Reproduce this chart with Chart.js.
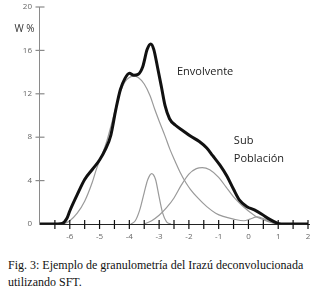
<!DOCTYPE html>
<html>
<head>
<meta charset="utf-8">
<script src="https://cdn.jsdelivr.net/npm/chart.js@4/dist/chart.umd.min.js"></script>
<style>
  html, body { margin: 0; padding: 0; background: #fff; overflow: hidden; }
  #wrap { position: relative; width: 321px; height: 294px; overflow: hidden; }
  #chart { position: absolute; left: 0; top: 0; }
  #caption {
    position: absolute; left: 8px; top: 257px; width: 313px;
    font-family: "Liberation Serif", serif; font-size: 12px; line-height: 17px; color: #111;
  }
</style>
</head>
<body>
<div id="wrap">
  <canvas id="chart" width="321" height="250"></canvas>
  <div id="caption">Fig. 3: Ejemplo de granulometría del Irazú deconvolucionada<br>utilizando SFT.</div>
</div>
<script>
// Envolvente (curva gruesa)
const envX = [-7, -6.4, -6.25, -6.1, -6.0, -5.75, -5.5, -5.25, -5.0, -4.8, -4.62, -4.45, -4.3, -4.15, -4.0,
              -3.85, -3.7, -3.55, -3.4, -3.28, -3.18, -3.05, -2.92, -2.8, -2.65, -2.45, -2.2, -1.95,
              -1.65, -1.4, -1.2, -0.95, -0.72, -0.5, -0.3, -0.05, 0.2, 0.45, 0.7, 0.95, 1.1, 2];
const envY = [0, 0, 0.05, 0.5, 1.2, 2.7, 4.1, 5.0, 5.9, 6.9, 8.2, 10.6, 12.4, 13.4, 13.9,
              13.7, 13.8, 14.5, 16.1, 16.6, 16.1, 14.4, 12.6, 10.9, 9.7, 9.1, 8.6, 8.1,
              7.6, 7.0, 6.3, 5.4, 4.4, 3.2, 2.2, 1.6, 1.3, 0.9, 0.45, 0.1, 0, 0];

// Población principal
const mainX = [-6.2, -6.0, -5.75, -5.5, -5.25, -5.1, -4.9, -4.75, -4.6, -4.45, -4.3, -4.15, -4.0, -3.85,
               -3.7, -3.5, -3.3, -3.15, -3.0, -2.8, -2.64, -2.45, -2.3, -2.1, -1.95, -1.7, -1.4,
               -1.1, -0.85, -0.5, -0.15, 0.05, 0.28, 0.5, 0.75, 1.0];
const mainY = [0, 0.3, 1.0, 2.1, 3.8, 5.1, 6.5, 7.7, 9.2, 10.8, 12.2, 13.1, 13.5, 13.65,
               13.5, 12.9, 11.8, 10.6, 9.5, 8.1, 6.9, 5.7, 4.8, 3.8, 3.2, 2.4, 1.6,
               1.0, 0.7, 0.45, 0.3, 0.45, 0.65, 0.5, 0.2, 0];

// Pico angosto
const peakX = [-3.95, -3.8, -3.65, -3.5, -3.38, -3.25, -3.12, -3.0, -2.88, -2.75, -2.6];
const peakY = [0, 0.3, 1.3, 2.9, 4.1, 4.65, 4.1, 2.5, 1.0, 0.2, 0];

// Sub población
const subX = [-3.5, -3.25, -3.0, -2.75, -2.5, -2.25, -2.0, -1.75, -1.55, -1.3, -1.0, -0.75,
              -0.5, -0.25, 0.0, 0.25, 0.5, 0.75, 1.0];
const subY = [0, 0.3, 0.8, 1.5, 2.4, 3.6, 4.6, 5.1, 5.2, 5.0, 4.3, 3.4,
              2.5, 1.8, 1.2, 0.7, 0.4, 0.15, 0];

const xMin = -7, xMax = 2, xStep = 0.5;
const yMin = 0, yMax = 20, yStep = 4;

const pts = (xs, ys) => xs.map((x, i) => ({ x: x, y: ys[i] }));

const grayLine = (xs, ys) => ({
  data: pts(xs, ys),
  borderColor: '#9a9a9a',
  borderWidth: 1.2,
  pointRadius: 0,
  tension: 0.4,
  cubicInterpolationMode: 'monotone',
  order: 1
});

// ejes, marcas que cruzan la línea y rótulos
const decor = {
  id: 'decor',
  afterDraw(chart) {
    const ctx = chart.ctx;
    const xs = chart.scales.x, ys = chart.scales.y;
    const axY = Math.round(ys.getPixelForValue(0));
    const axX = Math.round(xs.getPixelForValue(xMin)) - 0.5;
    ctx.save();
    ctx.lineWidth = 1;
    ctx.strokeStyle = '#8a8a8a';
    ctx.beginPath();
    ctx.moveTo(axX, ys.getPixelForValue(yMax));
    ctx.lineTo(axX, axY);
    ctx.stroke();
    ctx.strokeStyle = '#222';
    ctx.beginPath();
    ctx.moveTo(axX, axY + 0.5);
    ctx.lineTo(xs.getPixelForValue(xMax) + 2, axY + 0.5);
    ctx.stroke();
    ctx.lineWidth = 1.2;
    ctx.strokeStyle = '#111';
    xs.ticks.forEach(t => {
      if (t.value === xMin) return;
      const px = xs.getPixelForValue(t.value);
      ctx.beginPath();
      ctx.moveTo(px, axY - 4);
      ctx.lineTo(px, axY + 5);
      ctx.stroke();
    });
    ctx.strokeStyle = '#8a8a8a';
    ys.ticks.forEach(t => {
      if (t.value === yMin) return;
      const py = ys.getPixelForValue(t.value);
      ctx.beginPath();
      ctx.moveTo(axX - 4, py);
      ctx.lineTo(axX + 5, py);
      ctx.stroke();
    });
    ctx.fillStyle = '#222';
    ctx.font = '11px "Open Sans", sans-serif';
    ctx.textBaseline = 'middle';
    ctx.textAlign = 'left';
    ctx.fillText('Envolvente', xs.getPixelForValue(-2.4), ys.getPixelForValue(14.0));
    ctx.fillText('Sub', xs.getPixelForValue(-0.49), ys.getPixelForValue(7.7));
    ctx.fillText('Población', xs.getPixelForValue(-0.49), ys.getPixelForValue(6.0));
    ctx.fillStyle = '#333';
    ctx.font = '10px "Open Sans", sans-serif';
    ctx.textAlign = 'right';
    ctx.fillText('W %', axX - 5, ys.getPixelForValue(18));
    ctx.restore();
  }
};

new Chart(document.getElementById('chart'), {
  type: 'line',
  data: {
    datasets: [
      {
        data: pts(envX, envY),
        borderColor: '#111',
        borderWidth: 3,
        pointRadius: 0,
        tension: 0.4,
        cubicInterpolationMode: 'monotone',
        order: 0
      },
      grayLine(mainX, mainY),
      grayLine(peakX, peakY),
      grayLine(subX, subY)
    ]
  },
  options: {
    responsive: false,
    animation: false,
    events: [],
    layout: { padding: { top: 7, right: 13, left: 0, bottom: 0 } },
    plugins: { legend: { display: false }, tooltip: { enabled: false } },
    scales: {
      x: {
        type: 'linear',
        min: xMin, max: xMax,
        grid: { display: false },
        border: { display: false },
        ticks: {
          stepSize: xStep, autoSkip: false, maxRotation: 0, padding: 0,
          color: '#666', font: { family: 'Open Sans', size: 8 },
          callback: v => (Number.isInteger(v) && v !== xMin) ? String(v) : ''
        },
        afterFit: s => { s.height = 26; }
      },
      y: {
        min: yMin, max: yMax,
        grid: { display: false },
        border: { display: false },
        ticks: {
          stepSize: yStep, autoSkip: false, padding: 0,
          color: '#666', font: { family: 'Open Sans', size: 8 }
        },
        afterFit: s => { s.width = 40; }
      }
    }
  },
  plugins: [decor]
});
</script>
</body>
</html>
